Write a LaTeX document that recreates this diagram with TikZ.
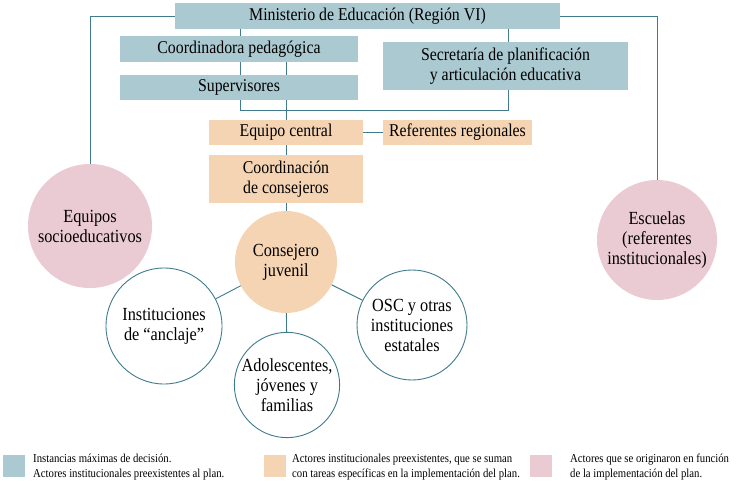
\documentclass[tikz,border=0pt]{standalone}
\usepackage{fontspec}
\setmainfont{Liberation Serif}
\newfontfamily\narrowserif[FakeStretch=0.88]{Liberation Serif}
\usetikzlibrary{backgrounds}

\definecolor{lineteal}{HTML}{3F7B8C}
\definecolor{boxblue}{HTML}{ABC9D0}
\definecolor{boxorange}{HTML}{F4D4B2}
\definecolor{boxpink}{HTML}{EBCBD3}

\tikzset{
	decision/.style={fill=boxblue, inner sep=0pt, align=center, font=\narrowserif\fontsize{18}{19.5}\selectfont},
	sumado/.style={fill=boxorange, inner sep=0pt, align=center, font=\narrowserif\fontsize{18}{19.5}\selectfont},
	origen/.style={circle, fill=boxpink, inner sep=0pt, align=center, font=\narrowserif\fontsize{18.5}{20}\selectfont},
	actor/.style={circle, draw=lineteal, line width=0.9pt, fill=white, inner sep=0pt, align=center, font=\narrowserif\fontsize{18.5}{20}\selectfont},
	link/.style={lineteal, line width=0.9pt},
	legendtext/.style={anchor=west, align=left, inner sep=0pt, font=\narrowserif\fontsize{12.2}{15}\selectfont}
}

\begin{document}
\begin{tikzpicture}[x=1pt, y=-1pt]
	\useasboundingbox (0,0) rectangle (748,487);

	% instancias de decision
	\node[decision, minimum width=385, minimum height=26] (min) at (367.5,16) {Ministerio de Educación (Región VI)};
	\node[decision, minimum width=238, minimum height=26] (coordped) at (239,49) {Coordinadora pedagógica};
	\node[decision, minimum width=245, minimum height=48] (secret) at (505.5,66) {Secretaría de planificación\\y articulación educativa};
	\node[decision, minimum width=238, minimum height=25] (superv) at (239,87.5) {Supervisores};

	% actores que se suman
	\node[sumado, minimum width=154, minimum height=25] (eqc) at (286,132.5) {Equipo central};
	\node[sumado, minimum width=149, minimum height=25] (refreg) at (457.5,132.5) {Referentes regionales};
	\node[sumado, minimum width=154, minimum height=48] (coordcons) at (286,179) {Coordinación\\de consejeros};
	\node[sumado, circle, minimum size=102, font=\narrowserif\fontsize{18.5}{20}\selectfont] (cons) at (286,262) {Consejero\\juvenil};

	% actores nuevos
	\node[origen, minimum size=124] (equipos) at (90,226) {Equipos\\socioeducativos};
	\node[origen, minimum size=120] (escuelas) at (657,240) {Escuelas\\(referentes\\institucionales)};

	\node[actor, minimum size=116] (inst) at (164,326) {Instituciones\\de “anclaje”};
	\node[actor, minimum size=104] (adol) at (287,385) {Adolescentes,\\jóvenes y\\familias};
	\node[actor, minimum size=110] (osc) at (412,325) {OSC y otras\\instituciones\\estatales};

	\coordinate (hubl) at (240,110);
	\coordinate (hubr) at (508,110);

	\begin{scope}[on background layer]
		\draw[link] (min.west) -| (equipos.north);
		\draw[link] (min.east) -| (escuelas.north);
		\draw[link] (min.south -| hubl) -- (hubl) -- (hubr) -- (min.south -| hubr);
		\draw[link] (coordped.south -| eqc) -- (cons);
	\end{scope}

	\draw[link] (eqc.east) -- (refreg.west);
	\draw[link] (cons) -- (inst);
	\draw[link] (cons) -- (adol);
	\draw[link] (cons) -- (osc);

	% referencias
	\node[fill=boxblue, minimum size=22, inner sep=0pt] (legblue) at (14,466) {};
	\node[legendtext] (legbluet) at (33,467) {Instancias máximas de decisión.\\Actores institucionales preexistentes al plan.};
	\node[fill=boxorange, minimum size=22, inner sep=0pt] (legorange) at (275,466) {};
	\node[legendtext] (legoranget) at (292,467) {Actores institucionales preexistentes, que se suman\\con tareas específicas en la implementación del plan.};
	\node[fill=boxpink, minimum size=22, inner sep=0pt] (legpink) at (541,466) {};
	\node[legendtext] (legpinkt) at (570,467) {Actores que se originaron en función\\de la implementación del plan.};

\end{tikzpicture}
\end{document}
